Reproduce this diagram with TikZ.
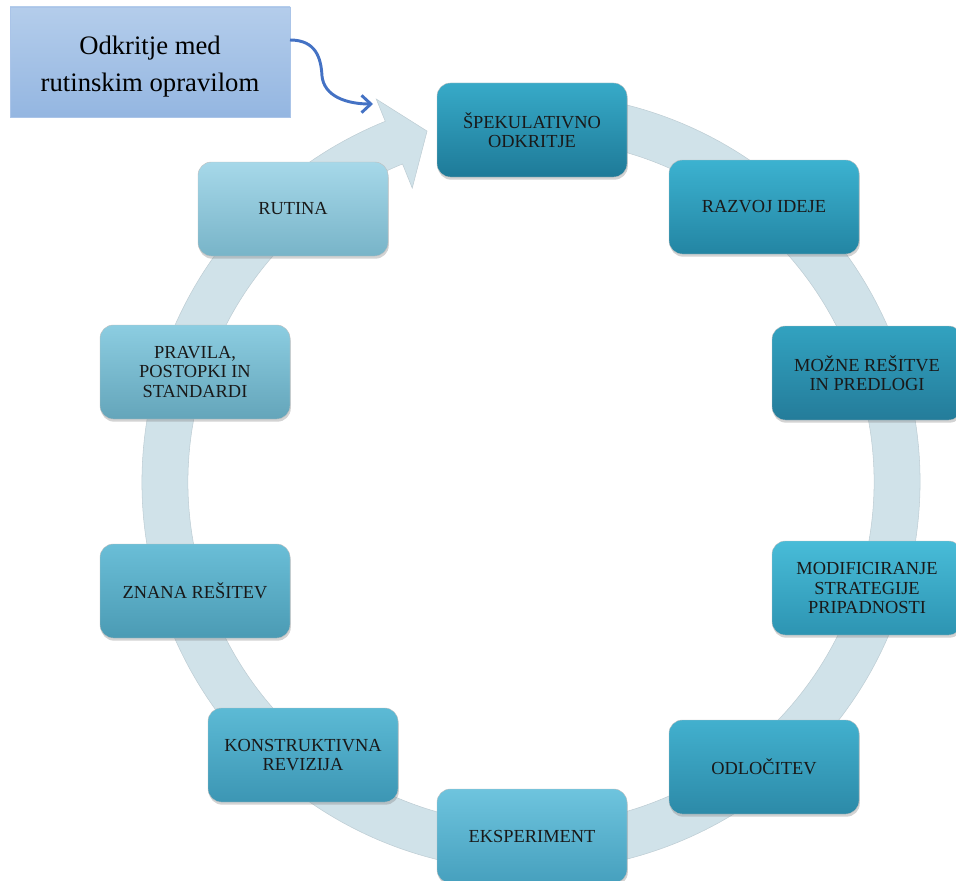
\documentclass[tikz,border=0pt]{standalone}
\usepackage{fontspec}
\setmainfont{Liberation Serif}
\usetikzlibrary{shadows,arrows.meta}
\definecolor{ringcol}{RGB}{208,226,233}
\definecolor{ringedge}{RGB}{190,205,212}
\definecolor{arrowblue}{RGB}{68,114,196}
\definecolor{notetop}{RGB}{180,205,235}
\definecolor{notebot}{RGB}{148,182,225}
\definecolor{noteedge}{RGB}{170,196,232}
\definecolor{t1}{RGB}{55,170,200}\definecolor{b1}{RGB}{30,122,152}
\definecolor{t2}{RGB}{60,178,208}\definecolor{b2}{RGB}{35,133,163}
\definecolor{t3}{RGB}{50,162,192}\definecolor{b3}{RGB}{36,124,154}
\definecolor{t4}{RGB}{72,188,216}\definecolor{b4}{RGB}{45,148,178}
\definecolor{t5}{RGB}{66,176,206}\definecolor{b5}{RGB}{44,138,168}
\definecolor{t6}{RGB}{110,196,222}\definecolor{b6}{RGB}{70,160,190}
\definecolor{t7}{RGB}{92,186,213}\definecolor{b7}{RGB}{60,150,180}
\definecolor{t8}{RGB}{106,190,215}\definecolor{b8}{RGB}{75,155,180}
\definecolor{t9}{RGB}{140,205,225}\definecolor{b9}{RGB}{100,165,186}
\definecolor{t10}{RGB}{166,216,233}\definecolor{b10}{RGB}{120,180,200}
\tikzset{
  cbox/.style={rounded corners=10pt, minimum width=142.5pt, minimum height=70.5pt,
    align=center, inner sep=2pt, text=black!90,
    font=\fontsize{13.8}{14.6}\selectfont,
    draw=black!25, line width=0.3pt,
    top color=t#1, bottom color=b#1,
    drop shadow={shadow xshift=0.6pt, shadow yshift=-2pt, opacity=0.35}},
  notebox/.style={minimum width=210pt, minimum height=82.5pt, align=center,
    top color=notetop, bottom color=notebot, draw=noteedge, line width=0.6pt,
    font=\fontsize{20}{27.75}\selectfont, text=black},
}
\begin{document}
\begin{tikzpicture}[x=0.75pt,y=-0.75pt]
\useasboundingbox (0,0) rectangle (956,881);
% ring with arrowhead
\begin{scope}[shift={(531,482)}, y=0.75pt]
\fill[ringcol, draw=ringedge, line width=0.4pt]
  (80:389) arc[start angle=80, end angle=-248, radius=389]
  -- (-248:413) -- (-253.5:366) -- (-248:317) -- (-248:343)
  arc[start angle=-248, end angle=80, radius=343] -- cycle;
\end{scope}
% boxes
\node[cbox=1] (spek) at (532,130) {ŠPEKULATIVNO\\ODKRITJE};
\node[cbox=2] (razv) at (764,207) {RAZVOJ IDEJE};
\node[cbox=3] (mozn) at (867,373) {MOŽNE REŠITVE\\IN PREDLOGI};
\node[cbox=4] (modi) at (867,588) {MODIFICIRANJE\\STRATEGIJE\\PRIPADNOSTI};
\node[cbox=5] (odlo) at (764,767) {ODLOČITEV};
\node[cbox=6] (eksp) at (532,836) {EKSPERIMENT};
\node[cbox=7] (konst) at (303,755) {KONSTRUKTIVNA\\REVIZIJA};
\node[cbox=8] (znana) at (195,591) {ZNANA REŠITEV};
\node[cbox=9] (prav) at (195,372) {PRAVILA,\\POSTOPKI IN\\STANDARDI};
\node[cbox=10] (rut) at (293,209) {RUTINA};
% note box and curved arrow
\node[notebox] (note) at (150,62) {\rule{0pt}{21pt}Odkritje med\\rutinskim opravilom};
\coordinate (astart) at (290,40);
\coordinate (atip) at (373,104);
\draw[arrowblue, line width=2.2pt, -{Straight Barb[length=7pt,width=13pt,line width=2.2pt]}]
  (astart) .. controls (316,40) and (321,58) .. (322,76)
  .. controls (324,96) and (346,104) .. (atip);
\end{tikzpicture}
\end{document}
